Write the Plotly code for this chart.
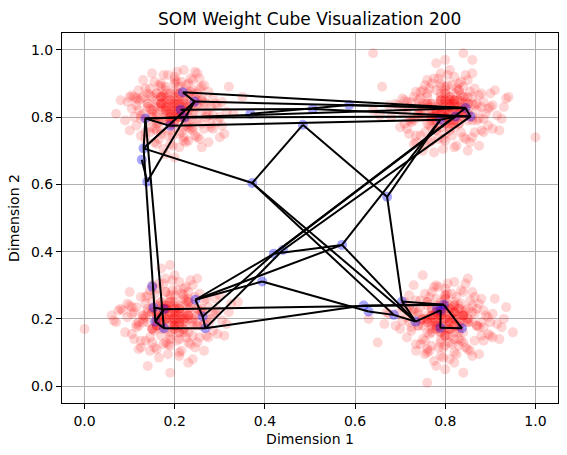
import plotly.graph_objects as go

# ---------------- data ----------------
title_text = "SOM Weight Cube Visualization 200"
x_label = "Dimension 1"
y_label = "Dimension 2"
tick_vals = [0.0, 0.2, 0.4, 0.6, 0.8, 1.0]
tick_text = ["0.0", "0.2", "0.4", "0.6", "0.8", "1.0"]

# data samples (red), four clusters
tl_x = [0.20,0.18,0.22,0.21,0.19,0.17,0.23,0.24,0.16,0.20,0.25,0.15,0.22,0.19,0.21,0.18,0.26,0.14,0.20,0.23,
        0.17,0.27,0.13,0.21,0.24,0.19,0.16,0.28,0.12,0.22,0.20,0.18,0.25,0.15,0.29,0.11,0.23,0.21,0.17,0.30,
        0.10,0.26,0.19,0.14,0.24,0.31,0.09,0.22,0.18,0.27,0.13,0.33,0.08,0.20,0.25,0.16,0.35,0.10,0.28,0.12,
        0.21,0.19,0.23,0.17,0.32,0.07,0.26,0.15,0.30,0.11,0.20,0.22,0.18,0.24,0.16]
tl_y = [0.83,0.85,0.81,0.86,0.80,0.82,0.84,0.79,0.87,0.78,0.83,0.80,0.88,0.76,0.82,0.89,0.85,0.84,0.90,0.77,
        0.75,0.81,0.86,0.80,0.91,0.84,0.79,0.78,0.82,0.73,0.92,0.87,0.74,0.77,0.84,0.80,0.87,0.71,0.90,0.80,
        0.86,0.89,0.72,0.83,0.76,0.75,0.79,0.94,0.69,0.84,0.91,0.81,0.85,0.68,0.93,0.72,0.86,0.76,0.77,0.88,
        0.82,0.79,0.73,0.84,0.89,0.81,0.71,0.93,0.74,0.86,0.85,0.80,0.82,0.87,0.78]
tl_mid_x = [0.17,0.23,0.20,0.15,0.25,0.19,0.22,0.16,0.24,0.18,0.21,0.14,0.26,0.20,0.17,0.23,0.19,0.27,0.13,0.22,
            0.18,0.24,0.16,0.21,0.25,0.15,0.20,0.23,0.17,0.19,0.26,0.14,0.22,0.18,0.24,0.21,0.16,0.20,0.28,0.12,
            0.19,0.23,0.17,0.25,0.21,0.15,0.22,0.18,0.24,0.20,0.16,0.26,0.19,0.23,0.14,0.21,0.17,0.25,0.20,0.22]
tl_mid_y = [0.86,0.80,0.88,0.82,0.85,0.78,0.84,0.87,0.77,0.81,0.89,0.84,0.82,0.79,0.76,0.86,0.85,0.80,0.81,0.77,
            0.88,0.83,0.80,0.75,0.87,0.86,0.82,0.90,0.84,0.79,0.78,0.79,0.85,0.83,0.81,0.87,0.76,0.84,0.83,0.85,
            0.87,0.78,0.89,0.84,0.80,0.81,0.74,0.86,0.88,0.77,0.84,0.86,0.81,0.83,0.87,0.84,0.79,0.79,0.91,0.82]
tl_ring_x = [0.105,0.125,0.145,0.265,0.285,0.305,0.115,0.135,0.275,0.295,0.155,0.245,0.165,0.235,0.125,0.285,0.145,0.265,0.095,0.315,
             0.175,0.225,0.185,0.215,0.135,0.255,0.115,0.275,0.155,0.245,0.105,0.295,0.165,0.235,0.145,0.255,0.125,0.265,0.195,0.205,
             0.175,0.225,0.135,0.285,0.155,0.245,0.115,0.305,0.185,0.215,0.165,0.235,0.145,0.275,0.205,0.195,0.125,0.255,0.175,0.225]
tl_ring_y = [0.825,0.795,0.865,0.845,0.805,0.775,0.855,0.755,0.875,0.835,0.905,0.745,0.735,0.915,0.805,0.765,0.885,0.895,0.845,0.815,
             0.925,0.725,0.745,0.905,0.735,0.885,0.775,0.805,0.765,0.855,0.865,0.785,0.895,0.765,0.825,0.735,0.855,0.765,0.715,0.935,
             0.705,0.895,0.885,0.855,0.725,0.935,0.835,0.845,0.925,0.755,0.785,0.875,0.755,0.725,0.905,0.745,0.745,0.915,0.865,0.775]
tl_core_x = [0.19,0.20,0.18,0.21,0.17,0.22,0.19,0.20,0.18,0.21,0.16,0.23,0.20,0.19,0.22,0.17,0.21,0.18,0.24,0.15,
             0.20,0.19,0.21,0.18,0.22,0.17,0.20,0.23,0.16,0.19,0.21,0.18,0.20,0.22,0.17,0.19,0.24,0.16,0.21,0.20]
tl_core_y = [0.83,0.82,0.84,0.81,0.83,0.85,0.80,0.86,0.82,0.84,0.81,0.83,0.79,0.85,0.82,0.86,0.80,0.83,0.84,0.82,
             0.87,0.81,0.85,0.79,0.83,0.84,0.81,0.82,0.85,0.78,0.87,0.80,0.84,0.80,0.86,0.82,0.81,0.83,0.83,0.80]

tr_x = [0.80,0.78,0.82,0.81,0.79,0.77,0.83,0.84,0.76,0.80,0.85,0.75,0.82,0.79,0.81,0.78,0.86,0.74,0.80,0.83,
        0.77,0.87,0.73,0.81,0.84,0.79,0.76,0.88,0.72,0.82,0.80,0.78,0.85,0.75,0.89,0.71,0.83,0.81,0.77,0.90,
        0.70,0.86,0.79,0.74,0.84,0.91,0.69,0.82,0.78,0.87,0.73,0.93,0.68,0.80,0.85,0.76,0.94,0.66,0.88,0.72,
        0.81,0.79,0.83,0.77,0.92,0.64,0.86,0.75,0.90,0.71,0.80,0.82,0.78,0.84,1.00,0.64,0.84,0.86]
tr_y = [0.82,0.80,0.84,0.79,0.85,0.83,0.81,0.86,0.78,0.87,0.82,0.84,0.77,0.89,0.83,0.76,0.80,0.81,0.75,0.88,
        0.90,0.84,0.79,0.85,0.74,0.81,0.86,0.87,0.83,0.92,0.73,0.78,0.91,0.88,0.81,0.85,0.78,0.94,0.73,0.83,
        0.77,0.74,0.93,0.80,0.89,0.88,0.84,0.71,0.96,0.79,0.72,0.83,0.80,0.97,0.70,0.91,0.86,0.89,0.76,0.75,
        0.81,0.84,0.90,0.79,0.76,0.82,0.93,0.70,0.87,0.78,0.80,0.85,0.83,0.81,0.74,0.99,0.99,0.97]
tr_mid_x = [0.77,0.83,0.80,0.75,0.85,0.79,0.82,0.76,0.84,0.78,0.81,0.74,0.86,0.80,0.77,0.83,0.79,0.87,0.73,0.82,
            0.78,0.84,0.76,0.81,0.85,0.75,0.80,0.83,0.77,0.79,0.86,0.74,0.82,0.78,0.84,0.81,0.76,0.80,0.88,0.72,
            0.79,0.83,0.77,0.85,0.81,0.75,0.82,0.78,0.84,0.80,0.76,0.86,0.79,0.83,0.74,0.81,0.77,0.85,0.80,0.82]
tr_mid_y = [0.80,0.85,0.78,0.83,0.81,0.87,0.79,0.84,0.86,0.82,0.77,0.81,0.84,0.88,0.80,0.78,0.85,0.82,0.86,0.83,
            0.76,0.80,0.87,0.84,0.79,0.82,0.89,0.83,0.81,0.77,0.86,0.85,0.82,0.88,0.84,0.79,0.80,0.85,0.83,0.79,
            0.81,0.88,0.84,0.86,0.76,0.80,0.85,0.82,0.80,0.78,0.84,0.79,0.90,0.82,0.83,0.86,0.77,0.84,0.81,0.87]
tr_ring_x = [0.705,0.725,0.745,0.865,0.885,0.905,0.715,0.735,0.875,0.895,0.755,0.845,0.765,0.835,0.725,0.885,0.745,0.865,0.695,0.915,
             0.775,0.825,0.785,0.815,0.735,0.855,0.715,0.875,0.755,0.845,0.705,0.895,0.765,0.835,0.745,0.855,0.725,0.865,0.795,0.805,
             0.775,0.825,0.735,0.885,0.755,0.845,0.715,0.905,0.785,0.815,0.765,0.835,0.745,0.875,0.805,0.795,0.675,0.925,0.655,0.935]
tr_ring_y = [0.815,0.785,0.855,0.835,0.795,0.765,0.845,0.745,0.865,0.825,0.895,0.735,0.725,0.905,0.795,0.755,0.875,0.885,0.835,0.805,
             0.915,0.715,0.735,0.895,0.725,0.875,0.765,0.795,0.755,0.845,0.855,0.775,0.885,0.755,0.815,0.725,0.845,0.755,0.705,0.925,
             0.695,0.885,0.875,0.845,0.715,0.925,0.825,0.835,0.915,0.745,0.775,0.865,0.745,0.715,0.895,0.735,0.835,0.795,0.805,0.855]
tr_core_x = [0.80,0.81,0.79,0.82,0.78,0.83,0.80,0.81,0.79,0.82,0.77,0.84,0.81,0.80,0.83,0.78,0.82,0.79,0.85,0.76,
             0.81,0.80,0.82,0.79,0.83,0.78,0.81,0.84,0.77,0.80,0.82,0.79,0.81,0.83,0.78,0.80,0.85,0.77,0.82,0.81]
tr_core_y = [0.82,0.83,0.81,0.84,0.82,0.80,0.85,0.81,0.83,0.79,0.84,0.82,0.86,0.80,0.83,0.79,0.85,0.82,0.81,0.83,
             0.78,0.84,0.80,0.86,0.82,0.81,0.84,0.83,0.80,0.87,0.78,0.85,0.81,0.85,0.79,0.83,0.84,0.82,0.82,0.85]

bl_x = [0.19,0.17,0.21,0.20,0.18,0.16,0.22,0.23,0.15,0.19,0.24,0.14,0.21,0.18,0.20,0.17,0.25,0.13,0.19,0.22,
        0.16,0.26,0.12,0.20,0.23,0.18,0.15,0.27,0.11,0.21,0.19,0.17,0.24,0.14,0.28,0.10,0.22,0.20,0.16,0.29,
        0.09,0.25,0.18,0.13,0.23,0.30,0.08,0.21,0.17,0.26,0.12,0.32,0.07,0.19,0.24,0.15,0.34,0.10,0.27,0.11,
        0.20,0.18,0.22,0.16,0.31,0.06,0.25,0.14,0.29,0.00,0.19,0.21,0.17,0.23,0.15]
bl_y = [0.21,0.19,0.23,0.18,0.24,0.22,0.20,0.25,0.17,0.26,0.21,0.23,0.16,0.28,0.22,0.15,0.19,0.20,0.14,0.27,
        0.29,0.23,0.18,0.24,0.13,0.20,0.25,0.26,0.22,0.31,0.12,0.17,0.30,0.27,0.20,0.24,0.17,0.33,0.11,0.22,
        0.16,0.13,0.32,0.19,0.28,0.27,0.23,0.09,0.35,0.18,0.11,0.22,0.19,0.36,0.08,0.30,0.25,0.28,0.15,0.14,
        0.20,0.23,0.29,0.18,0.15,0.21,0.32,0.06,0.26,0.17,0.04,0.10,0.24,0.07,0.13]
bl_mid_x = [0.18,0.22,0.16,0.20,0.24,0.17,0.21,0.15,0.23,0.19,0.25,0.14,0.20,0.18,0.22,0.16,0.26,0.19,0.13,0.21,
            0.17,0.23,0.15,0.20,0.24,0.18,0.22,0.14,0.19,0.25,0.16,0.21,0.17,0.23,0.20,0.27,0.12,0.18,0.22,0.16,
            0.24,0.19,0.21,0.15,0.23,0.17,0.20,0.26,0.18,0.13,0.22,0.19,0.24,0.16,0.21,0.18,0.23,0.20,0.15,0.25]
bl_mid_y = [0.23,0.19,0.21,0.25,0.18,0.20,0.24,0.22,0.16,0.27,0.21,0.19,0.17,0.23,0.26,0.18,0.22,0.15,0.21,0.20,
            0.25,0.23,0.17,0.19,0.24,0.28,0.16,0.22,0.20,0.18,0.24,0.14,0.21,0.26,0.23,0.20,0.19,0.17,0.22,0.20,
            0.15,0.25,0.19,0.23,0.21,0.18,0.27,0.22,0.13,0.21,0.24,0.18,0.19,0.22,0.16,0.20,0.25,0.21,0.17,0.23]
bl_ring_x = [0.095,0.115,0.135,0.255,0.275,0.295,0.105,0.125,0.265,0.285,0.145,0.235,0.155,0.225,0.115,0.275,0.135,0.255,0.085,0.305,
             0.165,0.215,0.175,0.205,0.125,0.245,0.105,0.265,0.145,0.235,0.095,0.285,0.155,0.225,0.135,0.245,0.115,0.255,0.185,0.195,
             0.165,0.215,0.125,0.275,0.145,0.235,0.105,0.295,0.175,0.205,0.155,0.225,0.135,0.265,0.195,0.185,0.075,0.315,0.065,0.325]
bl_ring_y = [0.205,0.175,0.245,0.225,0.185,0.155,0.235,0.135,0.255,0.215,0.285,0.125,0.115,0.295,0.185,0.145,0.265,0.275,0.225,0.195,
             0.305,0.105,0.125,0.285,0.115,0.265,0.155,0.185,0.145,0.235,0.245,0.165,0.275,0.145,0.205,0.115,0.235,0.145,0.095,0.315,
             0.085,0.275,0.265,0.235,0.105,0.315,0.215,0.225,0.305,0.135,0.165,0.255,0.135,0.105,0.285,0.125,0.225,0.185,0.195,0.245]
bl_core_x = [0.18,0.20,0.19,0.21,0.17,0.22,0.20,0.19,0.18,0.23,0.16,0.21,0.19,0.20,0.22,0.18,0.21,0.17,0.24,0.15,
             0.19,0.20,0.22,0.18,0.21,0.16,0.20,0.23,0.17,0.19,0.22,0.18,0.20,0.21,0.17,0.19,0.23,0.16,0.20,0.21]
bl_core_y = [0.21,0.20,0.22,0.19,0.23,0.21,0.18,0.22,0.20,0.21,0.19,0.22,0.24,0.17,0.20,0.23,0.18,0.21,0.20,0.22,
             0.16,0.23,0.19,0.24,0.21,0.18,0.22,0.20,0.25,0.19,0.17,0.23,0.20,0.22,0.19,0.25,0.21,0.20,0.18,0.23]

br_x = [0.80,0.78,0.82,0.81,0.79,0.77,0.83,0.84,0.76,0.80,0.85,0.75,0.82,0.79,0.81,0.78,0.86,0.74,0.80,0.83,
        0.77,0.87,0.73,0.81,0.84,0.79,0.76,0.88,0.72,0.82,0.80,0.78,0.85,0.75,0.89,0.70,0.83,0.81,0.77,0.90,
        0.71,0.86,0.79,0.74,0.84,0.92,0.69,0.82,0.78,0.87,0.73,0.93,0.67,0.80,0.85,0.76,0.95,0.65,0.88,0.72,
        0.81,0.79,0.83,0.77,0.91,0.63,0.86,0.75,0.90,0.72,0.76,0.82,0.78,0.84,0.76]
br_y = [0.20,0.22,0.18,0.23,0.17,0.19,0.21,0.16,0.24,0.15,0.20,0.18,0.25,0.13,0.19,0.26,0.22,0.21,0.27,0.14,
        0.12,0.18,0.23,0.17,0.28,0.21,0.16,0.15,0.19,0.10,0.29,0.24,0.11,0.14,0.21,0.17,0.24,0.08,0.28,0.19,
        0.25,0.28,0.09,0.22,0.13,0.14,0.18,0.31,0.06,0.23,0.30,0.20,0.22,0.05,0.32,0.11,0.16,0.13,0.26,0.27,
        0.21,0.18,0.12,0.23,0.26,0.20,0.09,0.33,0.15,0.24,0.01,0.07,0.30,0.04,0.10]
br_mid_x = [0.79,0.82,0.77,0.81,0.84,0.78,0.80,0.75,0.83,0.79,0.86,0.76,0.81,0.78,0.83,0.74,0.85,0.80,0.77,0.82,
            0.79,0.84,0.76,0.81,0.87,0.78,0.82,0.73,0.80,0.85,0.77,0.83,0.79,0.81,0.75,0.86,0.78,0.82,0.80,0.76,
            0.84,0.79,0.81,0.77,0.83,0.80,0.88,0.78,0.82,0.74,0.81,0.79,0.85,0.77,0.83,0.80,0.76,0.82,0.79,0.84]
br_mid_y = [0.21,0.18,0.23,0.19,0.22,0.17,0.24,0.20,0.16,0.22,0.19,0.25,0.15,0.21,0.23,0.18,0.20,0.26,0.17,0.22,
            0.14,0.21,0.19,0.24,0.18,0.20,0.16,0.22,0.27,0.19,0.21,0.17,0.23,0.13,0.20,0.24,0.18,0.22,0.15,0.19,
            0.21,0.25,0.17,0.20,0.23,0.12,0.19,0.22,0.24,0.18,0.20,0.16,0.23,0.21,0.18,0.26,0.20,0.14,0.22,0.19]
br_ring_x = [0.705,0.725,0.745,0.865,0.885,0.905,0.715,0.735,0.875,0.895,0.755,0.845,0.765,0.835,0.725,0.885,0.745,0.865,0.695,0.915,
             0.775,0.825,0.785,0.815,0.735,0.855,0.715,0.875,0.755,0.845,0.705,0.895,0.765,0.835,0.745,0.855,0.725,0.865,0.795,0.805,
             0.775,0.825,0.735,0.885,0.755,0.845,0.715,0.905,0.785,0.815,0.765,0.835,0.745,0.875,0.805,0.795,0.675,0.925,0.665,0.935]
br_ring_y = [0.195,0.165,0.235,0.215,0.175,0.145,0.225,0.125,0.245,0.205,0.275,0.115,0.105,0.285,0.175,0.135,0.255,0.265,0.215,0.185,
             0.295,0.095,0.115,0.275,0.105,0.255,0.145,0.175,0.135,0.225,0.235,0.155,0.265,0.135,0.195,0.105,0.225,0.135,0.085,0.305,
             0.075,0.265,0.255,0.225,0.095,0.305,0.205,0.215,0.295,0.125,0.155,0.245,0.125,0.095,0.275,0.115,0.215,0.175,0.185,0.235]
br_core_x = [0.80,0.79,0.81,0.78,0.82,0.80,0.77,0.83,0.79,0.81,0.76,0.82,0.80,0.78,0.84,0.79,0.81,0.77,0.83,0.80,
             0.78,0.82,0.79,0.85,0.76,0.80,0.81,0.78,0.83,0.79,0.82,0.77,0.80,0.84,0.78,0.81,0.79,0.82,0.80,0.76]
br_core_y = [0.20,0.21,0.19,0.22,0.20,0.18,0.21,0.19,0.23,0.17,0.20,0.22,0.24,0.19,0.21,0.16,0.23,0.18,0.20,0.22,
             0.17,0.24,0.20,0.19,0.21,0.15,0.22,0.19,0.18,0.24,0.20,0.16,0.23,0.21,0.18,0.20,0.19,0.22,0.17,0.25]

# SOM weight nodes (blue) and the connections between them
node_x = [0.218,0.244,0.213,0.222,0.190,0.135,0.131,0.127,0.139,0.368,
          0.506,0.587,0.484,0.372,0.671,0.571,0.420,0.440,0.394,0.845,
          0.856,0.823,0.789,0.150,0.153,0.176,0.157,0.176,0.246,0.262,
          0.268,0.619,0.630,0.686,0.704,0.734,0.782,0.797,0.790,0.789,0.837]
node_y = [0.874,0.846,0.822,0.799,0.774,0.796,0.707,0.673,0.608,0.810,
          0.824,0.836,0.777,0.604,0.563,0.420,0.394,0.405,0.311,0.827,
          0.802,0.802,0.792,0.296,0.234,0.229,0.192,0.172,0.257,0.207,
          0.172,0.240,0.222,0.212,0.252,0.192,0.232,0.242,0.226,0.174,0.172]
edge_from = [0,1,5,5,5,6,8,7,5,6,6,
             0,1,2,10,3,9,11,5,4,
             12,12,14,14,15,15,16,15,
             29,28,30,16,17,16,18,18,
             24,26,26,25,28,29,27,25,30,31,
             34,35,38,37,39,13,13,34,19,20,21,32,33]
edge_to   = [1,6,3,4,6,13,1,8,27,26,1,
             19,19,10,20,21,11,19,19,22,
             13,14,22,34,22,28,15,35,
             16,16,17,19,20,21,28,32,
             25,27,25,37,29,30,30,26,31,37,
             37,38,39,40,40,35,33,35,20,21,22,33,35]

# ---------------- figure ----------------
FONT = "DejaVu Sans"
red = "rgba(255,0,0,0.16)"
fig = go.Figure()

sample_sets = [(tl_x, tl_y), (tr_x, tr_y), (bl_x, bl_y), (br_x, br_y),
               (tl_ring_x, tl_ring_y), (tr_ring_x, tr_ring_y), (bl_ring_x, bl_ring_y), (br_ring_x, br_ring_y),
               (tl_mid_x, tl_mid_y), (tr_mid_x, tr_mid_y), (bl_mid_x, bl_mid_y), (br_mid_x, br_mid_y),
               (tl_core_x, tl_core_y), (tr_core_x, tr_core_y),
               (bl_core_x, bl_core_y), (br_core_x, br_core_y)]
for xs, ys in sample_sets:
    fig.add_trace(go.Scatter(x=xs, y=ys, mode="markers",
                             marker=dict(size=10, color=red, line=dict(width=0)),
                             hoverinfo="skip", showlegend=False))

fig.add_trace(go.Scatter(x=node_x, y=node_y, mode="markers",
                         marker=dict(size=10, color="rgba(0,0,255,0.35)", line=dict(width=0)),
                         showlegend=False))

lx, ly = [], []
for a, b in zip(edge_from, edge_to):
    lx += [node_x[a], node_x[b], None]
    ly += [node_y[a], node_y[b], None]
fig.add_trace(go.Scatter(x=lx, y=ly, mode="lines",
                         line=dict(color="black", width=2),
                         hoverinfo="skip", showlegend=False))

axis_common = dict(range=[-0.05, 1.05], tickvals=tick_vals, ticktext=tick_text,
                   showline=True, mirror=True, linecolor="black", linewidth=1,
                   ticks="outside", ticklen=5, tickwidth=1, tickcolor="black",
                   showgrid=True, gridcolor="#b0b0b0", gridwidth=1, zeroline=False,
                   tickfont=dict(family=FONT, size=14, color="black"))

fig.update_layout(
    width=567, height=455,
    margin=dict(l=62, r=9, t=33, b=52),
    paper_bgcolor="white", plot_bgcolor="white",
    font=dict(family=FONT, size=14, color="black"),
    title=dict(text=title_text, x=0.5462, xanchor="center", y=1 - 19 / 455, yanchor="middle",
               font=dict(family=FONT, size=17, color="black")),
    xaxis=dict(title=dict(text=x_label, standoff=6, font=dict(family=FONT, size=14)), **axis_common),
    yaxis=dict(title=dict(text=y_label, standoff=8, font=dict(family=FONT, size=14)), **axis_common),
)

fig.write_html("out.html")
